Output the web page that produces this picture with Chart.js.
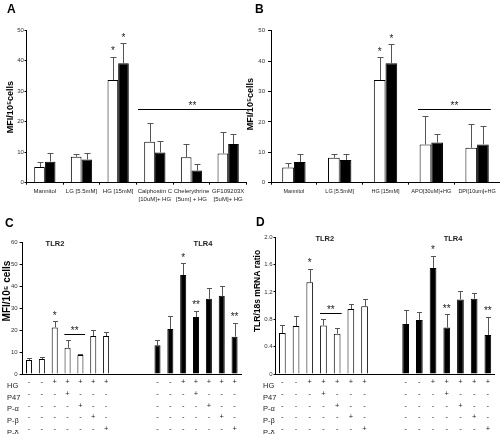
<!DOCTYPE html>
<html>
<head>
<meta charset="utf-8">
<script src="https://cdn.jsdelivr.net/npm/chart.js@4.4.1/dist/chart.umd.min.js"></script>
<style>
  html, body { margin: 0; padding: 0; background: #fff; }
  #fig { position: relative; width: 500px; height: 434px; overflow: hidden; background: #fff; }
  #fig canvas { position: absolute; }
</style>
</head>
<body>
<div id="fig">
  <canvas id="panelA" width="250" height="210" style="left:0;top:0"></canvas>
  <canvas id="panelB" width="260" height="210" style="left:240px;top:0"></canvas>
  <canvas id="panelC" width="250" height="224" style="left:0;top:210px"></canvas>
  <canvas id="panelD" width="250" height="224" style="left:250px;top:210px"></canvas>
</div>
<script>
// ---- panel A: PKC inhibitors ----
const catsA = ['Mannitol', 'LG [5.5mM]', 'HG [15mM]', ['Calphostin C', '[10uM]+ HG'], ['Chelerythrine', '[5um] + HG'], ['GF109203X', '[5uM]+ HG']];
const tlr2A = [5.1, 8.5, 33.6, 13.4, 8.3, 9.6];
const tlr2ATop = [6.7, 9.4, 41.3, 19.4, 12.7, 16.5];
const tlr4A = [6.9, 7.6, 39.1, 9.9, 4.0, 12.7];
const tlr4ATop = [9.6, 9.8, 45.6, 13.8, 6.1, 15.8];
const yTicksA = [0, 10, 20, 30, 40, 50];

// ---- panel B: NADPH oxidase inhibitors ----
const catsB = ['Mannitol', 'LG [5.5mM]', 'HG [15mM]', 'APO[30uM]+HG', 'DPI[10um]+HG'];
const tlr2B = [5.0, 8.2, 33.8, 12.6, 11.5];
const tlr2BTop = [6.4, 9.3, 41.2, 21.9, 19.2];
const tlr4B = [6.8, 7.5, 39.3, 13.2, 12.6];
const tlr4BTop = [9.3, 9.6, 45.5, 15.9, 18.6];
const yTicksB = [0, 10, 20, 30, 40, 50];

// ---- treatment table under C and D ----
const rowNames = ['HG', 'P47', 'P-\u03b1', 'P-\u03b2', 'P-\u03b4'];
const hgSigns = ['-', '-', '+', '+', '+', '+', '+'];
const p47Signs = ['-', '-', '-', '+', '-', '-', '-'];
const pAlphaSigns = ['-', '-', '-', '-', '+', '-', '-'];
const pBetaSigns = ['-', '-', '-', '-', '-', '+', '-'];
const pDeltaSigns = ['-', '-', '-', '-', '-', '-', '+'];

// ---- panel C: surface protein (MFI) ----
const tlr2C = [6.4, 6.8, 21.2, 12.0, 8.6, 17.3, 17.3];
const tlr2CTop = [7.3, 7.6, 24.0, 15.3, 9.0, 20.0, 19.1];
const tlr4C = [13.1, 20.5, 45.1, 26.0, 34.3, 35.6, 17.0];
const tlr4CTop = [15.5, 26.6, 50.5, 28.9, 39.4, 40.1, 23.4];
const yTicksC = [0, 10, 20, 30, 40, 50, 60];

// ---- panel D: mRNA ----
const tlr2D = [0.60, 0.70, 1.34, 0.71, 0.59, 0.95, 0.99];
const tlr2DTop = [0.71, 0.85, 1.54, 0.81, 0.67, 1.03, 1.10];
const tlr4D = [0.73, 0.79, 1.55, 0.68, 1.09, 1.10, 0.57];
const tlr4DTop = [0.94, 0.90, 1.73, 0.88, 1.22, 1.19, 0.84];
const yTicksD = [0, 0.4, 0.8, 1.2, 1.6, 2.0];

const FONT = "'Liberation Sans', Arial, Helvetica, sans-serif";
Chart.defaults.font.family = FONT;
Chart.defaults.color = '#222';

// put the TLR2 group left, a gap of empty slots, then the TLR4 group
function spread(left, right, gap) {
  const pad = n => Array(n).fill(null);
  return [[...left, ...pad(gap + right.length)], [...pad(left.length + gap), ...right]];
}
function tableLabels(gap) {
  const signRows = [hgSigns, p47Signs, pAlphaSigns, pBetaSigns, pDeltaSigns];
  const group = hgSigns.map((_, i) => signRows.map(r => r[i]));
  return [...group, ...Array(gap).fill(''), ...group];
}

// error bars, stars, significance lines, text bits
const figureDecor = {
  id: 'figureDecor',
  afterDatasetsDraw(chart, args, o) {
    const ctx = chart.ctx;
    const xs = chart.scales.x, ys = chart.scales.y;
    const area = chart.chartArea;
    ctx.save();
    ctx.lineWidth = 1;
    o.tops.forEach((tops, d) => {
      const meta = chart.getDatasetMeta(d);
      tops.forEach((top, i) => {
        if (top == null) return;
        const bar = meta.data[i];
        const px = Math.round(bar.x) + 0.5;
        const py = Math.round(ys.getPixelForValue(top)) + 0.5;
        ctx.strokeStyle = '#555';
        ctx.beginPath();
        ctx.moveTo(px, bar.y);
        ctx.lineTo(px, py);
        ctx.moveTo(px - o.cap, py);
        ctx.lineTo(px + o.cap, py);
        ctx.stroke();
      });
    });

    ctx.fillStyle = '#222';
    ctx.textAlign = 'center';
    ctx.textBaseline = 'alphabetic';
    ctx.font = '10px ' + FONT;
    (o.stars || []).forEach(s => {
      const bar = chart.getDatasetMeta(s.ds).data[s.i];
      const py = ys.getPixelForValue(o.tops[s.ds][s.i]) - 8;
      ctx.fillText(s.text, bar.x, py + 5.8);
    });
    if (o.sig) {
      const x1 = xs.getPixelForValue(o.sig.from);
      const x2 = xs.getPixelForValue(o.sig.to);
      const yy = Math.round(ys.getPixelForValue(o.sig.at)) + 0.5;
      ctx.strokeStyle = '#000';
      ctx.beginPath();
      ctx.moveTo(x1, yy);
      ctx.lineTo(x2, yy);
      ctx.stroke();
      ctx.fillText(o.sig.text, (x1 + x2) / 2, yy - 6 + 5.8);
    }

    ctx.font = 'bold 7.5px ' + FONT;
    ctx.textBaseline = 'middle';
    (o.groups || []).forEach(g => {
      ctx.fillText(g.text, xs.getPixelForValue(g.at), area.top + 1.5);
    });

    if (o.rows) {
      ctx.font = '7.5px ' + FONT;
      ctx.textAlign = 'left';
      ctx.fillStyle = '#222';
      o.rows.names.forEach((name, i) => {
        ctx.fillText(name, o.rows.x, xs.top + o.rows.pad + o.rows.lh * (i + 0.5));
      });
    }
    ctx.restore();
  },
  afterDraw(chart, args, o) {
    const ctx = chart.ctx;
    ctx.save();
    ctx.fillStyle = '#000';
    ctx.textAlign = 'left';
    ctx.textBaseline = 'alphabetic';
    ctx.font = 'bold 12px ' + FONT;
    ctx.fillText(o.letter, o.letterX, o.letterY);
    ctx.translate(o.titleX, o.titleY);
    ctx.rotate(-Math.PI / 2);
    ctx.textAlign = 'center';
    ctx.textBaseline = 'middle';
    ctx.font = 'bold ' + o.titleSize + 'px ' + FONT;
    ctx.fillText(o.title, 0, 0);
    ctx.restore();
  }
};

function panel(id, p) {
  return new Chart(document.getElementById(id), {
    type: 'bar',
    data: {
      labels: p.labels,
      datasets: p.series.map((vals, k) => ({
        data: vals,
        backgroundColor: k === 0 ? '#fff' : '#000',
        borderColor: '#000',
        borderWidth: 1,
        categoryPercentage: p.catPct,
        barPercentage: 1,
        grouped: p.grouped
      }))
    },
    options: {
      responsive: false,
      animation: false,
      layout: { padding: p.padding },
      plugins: {
        legend: { display: false },
        tooltip: { enabled: false },
        figureDecor: p.decor
      },
      scales: {
        x: {
          afterFit: s => { s.height = p.xHeight; },
          grid: p.xTicks
            ? { display: true, drawOnChartArea: false, offset: true, tickLength: 2, color: '#000' }
            : { display: false },
          border: { color: '#000', width: 1 },
          ticks: {
            autoSkip: false, maxRotation: 0, minRotation: 0,
            padding: p.xPad, color: '#222',
            font: { size: p.xFont, lineHeight: p.xLine }
          }
        },
        y: {
          min: 0,
          max: p.yTicks[p.yTicks.length - 1],
          afterFit: s => { s.width = p.yWidth; },
          afterBuildTicks: s => { s.ticks = p.yTicks.map(v => ({ value: v })); },
          grid: { display: true, drawOnChartArea: false, tickLength: p.yTick, color: '#000' },
          border: { color: '#000', width: 1 },
          ticks: {
            padding: p.yPad, color: '#333', font: { size: 6 },
            callback: p.yFmt || (v => String(v))
          }
        }
      }
    },
    plugins: [figureDecor]
  });
}

panel('panelA', {
  labels: catsA,
  series: [tlr2A, tlr4A],
  grouped: true, catPct: 0.58,
  padding: { left: 3, top: 30, right: 3.5, bottom: 0 },
  yWidth: 23.5, xHeight: 27.3, xTicks: true, xPad: 3.2, xFont: 6, xLine: '7.4px',
  yTicks: yTicksA, yTick: 2, yPad: 0.7,
  decor: {
    tops: [tlr2ATop, tlr4ATop], cap: 3,
    stars: [{ ds: 0, i: 2, text: '*' }, { ds: 1, i: 2, text: '*' }],
    sig: { from: 2.54, to: 5.51, at: 24.1, text: '**' },
    letter: 'A', letterX: 7, letterY: 13.3,
    title: 'MFI/10\u2075cells', titleSize: 9, titleX: 10.5, titleY: 107
  }
});

panel('panelB', {
  labels: catsB,
  series: [tlr2B, tlr4B],
  grouped: true, catPct: 0.51,
  padding: { left: 3, top: 30.7, right: 0, bottom: 0 },
  yWidth: 28, xHeight: 27.3, xTicks: true, xPad: 3.5, xFont: 5.5, xLine: '7.4px',
  yTicks: yTicksB, yTick: 3, yPad: 3,
  decor: {
    tops: [tlr2BTop, tlr4BTop], cap: 3,
    stars: [{ ds: 0, i: 2, text: '*' }, { ds: 1, i: 2, text: '*' }],
    sig: { from: 2.71, to: 4.3, at: 24.1, text: '**' },
    letter: 'B', letterX: 15, letterY: 13.3,
    title: 'MFI/10\u2075cells', titleSize: 9, titleX: 10.5, titleY: 104
  }
});

const gapC = 3;
const [seriesC2, seriesC4] = spread(tlr2C, tlr4C, gapC);
const [topsC2, topsC4] = spread(tlr2CTop, tlr4CTop, gapC);
panel('panelC', {
  labels: tableLabels(gapC),
  series: [seriesC2, seriesC4],
  grouped: false, catPct: 0.47,
  padding: { left: 3, top: 32.3, right: 9, bottom: 0 },
  yWidth: 19.6, xHeight: 60, xTicks: false, xPad: -5.7, xFont: 7.5, xLine: '11.7px',
  yTicks: yTicksC, yTick: 3, yPad: 2,
  decor: {
    tops: [topsC2, topsC4], cap: 2.5,
    stars: [
      { ds: 0, i: 2, text: '*' },
      { ds: 1, i: 7 + gapC + 2, text: '*' },
      { ds: 1, i: 7 + gapC + 3, text: '**' },
      { ds: 1, i: 7 + gapC + 6, text: '**' }
    ],
    sig: { from: 2.75, to: 4.36, at: 18, text: '**' },
    groups: [{ text: 'TLR2', at: 2.02 }, { text: 'TLR4', at: 13.54 }],
    rows: { names: rowNames, x: 7, pad: 6, lh: 11.7 },
    letter: 'C', letterX: 5, letterY: 16.8,
    title: 'MFI/10\u2075 cells', titleSize: 10, titleX: 7.5, titleY: 81
  }
});

const gapD = 2;
const [seriesD2, seriesD4] = spread(tlr2D, tlr4D, gapD);
const [topsD2, topsD4] = spread(tlr2DTop, tlr4DTop, gapD);
panel('panelD', {
  labels: tableLabels(gapD),
  series: [seriesD2, seriesD4],
  grouped: false, catPct: 0.49,
  padding: { left: 3, top: 27.2, right: 5.3, bottom: 0 },
  yWidth: 22.5, xHeight: 60, xTicks: false, xPad: -5.7, xFont: 7.5, xLine: '11.7px',
  yTicks: yTicksD, yTick: 2, yPad: 1,
  yFmt: v => (v === 0 ? '0' : v.toFixed(1)),
  decor: {
    tops: [topsD2, topsD4], cap: 2.5,
    stars: [
      { ds: 0, i: 2, text: '*' },
      { ds: 1, i: 7 + gapD + 2, text: '*' },
      { ds: 1, i: 7 + gapD + 3, text: '**' },
      { ds: 1, i: 7 + gapD + 6, text: '**' }
    ],
    sig: { from: 2.75, to: 4.33, at: 0.89, text: '**' },
    groups: [{ text: 'TLR2', at: 3.1 }, { text: 'TLR4', at: 12.46 }],
    rows: { names: rowNames, x: 13, pad: 6, lh: 11.7 },
    letter: 'D', letterX: 6, letterY: 15.5,
    title: 'TLR/18s mRNA ratio', titleSize: 8.5, titleX: 7.5, titleY: 81
  }
});
</script>
</body>
</html>
